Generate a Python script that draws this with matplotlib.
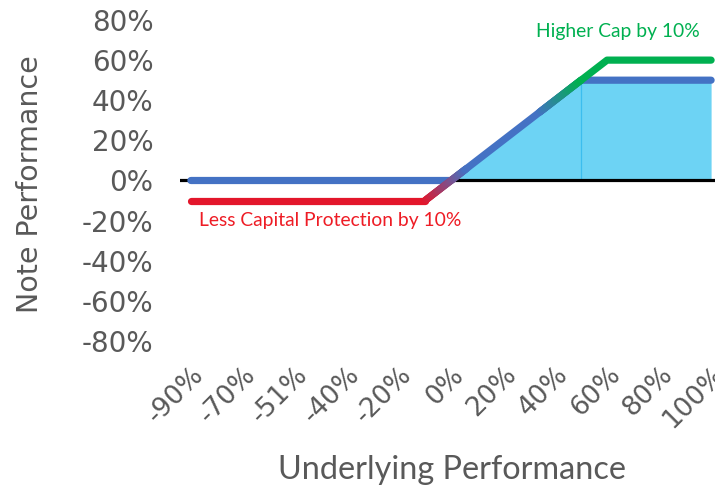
import numpy as np
import matplotlib
matplotlib.use("Agg")
import matplotlib.pyplot as plt
from matplotlib.collections import LineCollection
from matplotlib.colors import to_rgb

# underlying performance categories (%), only every other one is labelled
underlying = [-90, -80, -70, -60, -51, -45, -40, -30, -20, -10,
              0, 10, 20, 30, 40, 50, 60, 70, 80, 90, 100]

# note performance (%) per category
base_note = [0, 0, 0, 0, 0, 0, 0, 0, 0, 0,
             0, 10, 20, 30, 40, 50, 50, 50, 50, 50, 50]
higher_cap = [0, 0, 0, 0, 0, 0, 0, 0, 0, 0,
              0, 10, 20, 30, 40, 50, 60, 60, 60, 60, 60]
less_protect = [-10, -10, -10, -10, -10, -10, -10, -10, -10, -10,
                0, 10, 20, 30, 40, 50, 50, 50, 50, 50, 50]

y_ticks = [-80, -60, -40, -20, 0, 20, 40, 60, 80]

BLUE = "#4472C4"
RED = "#E3162B"
GREEN = "#00B050"
FILL = "#6DD3F4"
GRAY = "#595959"
LW = 5.2


def blend_segment(ax, p0, p1, c0, c1, steps=40, **kw):
    # draw one line segment fading from colour c0 to c1
    t = np.linspace(0, 1, steps + 1)
    xs = p0[0] + (p1[0] - p0[0]) * t
    ys = p0[1] + (p1[1] - p0[1]) * t
    segs = np.stack([np.column_stack([xs[:-1], ys[:-1]]),
                     np.column_stack([xs[1:], ys[1:]])], axis=1)
    a, b = np.array(to_rgb(c0)), np.array(to_rgb(c1))
    mids = (t[:-1] + t[1:]) / 2
    cols = [tuple(a + (b - a) * m) for m in mids]
    lc = LineCollection(segs, colors=cols, capstyle="round", **kw)
    ax.add_collection(lc)


fig = plt.figure(figsize=(7.15, 4.86), dpi=100)
ax = fig.add_axes([180 / 715, 1 - 341 / 486, 1 - 180 / 715, 321 / 486])

x = np.arange(len(underlying))
xb = x[10:]
base = np.array(base_note)

# shaded payoff area above zero
ax.fill_between(xb, 0, base[10:], color=FILL, lw=0, zorder=1)
ax.vlines(15, 0, base_note[15], color="#3CBDEE", lw=0.9, zorder=1.5)
ax.axhline(0, color="black", lw=2.3, zorder=2)

ax.plot(x, base_note, color=BLUE, lw=LW, solid_capstyle="round",
        solid_joinstyle="round", zorder=3)

# reduced protection series
ax.plot(x[:10], less_protect[:10], color=RED, lw=LW, solid_capstyle="round",
        zorder=4)
blend_segment(ax, (9, less_protect[9]), (10.6, less_protect[9] + 1.6 * 10),
              RED, BLUE, lw=LW, zorder=4)

# higher cap series
blend_segment(ax, (13.4, higher_cap[13] + 4), (15, higher_cap[15]),
              BLUE, GREEN, lw=LW, zorder=4)
ax.plot(x[15:], higher_cap[15:], color=GREEN, lw=LW, solid_capstyle="round",
        solid_joinstyle="round", zorder=4)

ax.text(16.4, 74.5, "Higher Cap by 10%", color=GREEN, fontsize=13.9,
        family="Lato", ha="center", va="center")
ax.text(5.35, -20, "Less Capital Protection by 10%", color="#EE1C25",
        fontsize=13.9, family="Lato", ha="center", va="center")

ax.set_xlim(-0.42, 20.15)
ax.set_ylim(-80, 80)
ax.set_yticks(y_ticks)
ax.set_yticklabels([f"{v}%" for v in y_ticks], fontsize=20, color=GRAY)
ax.set_xticks(x[::2])
ax.set_xticklabels([f"{v}%" for v in underlying[::2]], fontsize=19,
                   color=GRAY, rotation=45, ha="right",
                   rotation_mode="anchor")
ax.tick_params(axis="both", length=0)
ax.tick_params(axis="y", pad=19)
ax.tick_params(axis="x", pad=15)
for s in ax.spines.values():
    s.set_visible(False)

fig.text(30 / 715, 1 - 184 / 486, "Note Performance", rotation=90,
         fontsize=20.5, color=GRAY, ha="center", va="center")
fig.text(452 / 715, 1 - 470 / 486, "Underlying Performance", fontsize=23.3,
         color=GRAY, family="Lato", ha="center", va="center")

fig.savefig("out.png", dpi=100)
